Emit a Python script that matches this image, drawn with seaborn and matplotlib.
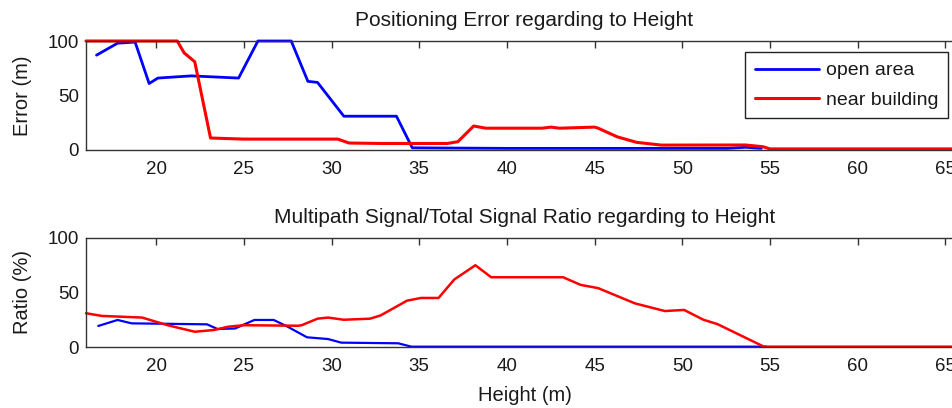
import matplotlib
matplotlib.use("Agg")
import matplotlib.pyplot as plt
import seaborn as sns
import pandas as pd

# ---- data ----
x_top_open = [16.6, 17.8, 18.8, 19.6, 20.1, 22.0, 24.7, 25.8, 27.7, 28.65, 29.2, 30.7, 33.7, 34.6,
              40.0, 45.0, 50.0, 52.6, 53.6, 54.5]
y_top_open = [87, 98, 99, 61, 66, 68, 66, 100, 100, 63, 62, 31, 31, 2,
              1.5, 1.5, 1.5, 1.5, 2.5, 1.5]

x_top_near = [16.0, 21.2, 21.6, 22.2, 23.1, 25.0, 30.35, 31.0, 32.8, 36.6, 37.2, 38.1, 38.8, 42.0,
              42.5, 43.0, 45.0, 45.2, 46.3, 47.4, 48.8, 53.6, 54.6, 55.0, 65.5]
y_top_near = [100, 100, 89, 81, 11, 10, 10, 6.4, 6, 6, 7.6, 22, 20, 20,
              21, 20, 21, 20, 12, 7, 4.5, 4.6, 3, 1, 1]

x_bot_open = [16.7, 17.8, 18.6, 22.9, 23.5, 24.5, 25.6, 26.7, 27.5, 28.6, 29.8, 30.55, 33.8, 34.55, 54.8]
y_bot_open = [19.3, 24.8, 21.7, 20.8, 16.5, 17, 24.8, 24.8, 18.6, 8.9, 7.3, 4, 3.4, 0.3, 0.3]

x_bot_near = [16.0, 16.9, 19.2, 20.65, 22.2, 23.3, 24.1, 25.0, 28.1, 28.3, 29.2, 29.8, 30.7, 32.2,
              32.8, 34.3, 35.1, 36.1, 37.0, 38.2, 39.1, 43.2, 44.2, 45.2, 47.3, 49.0, 50.1, 51.2,
              52.0, 54.65, 65.5]
y_bot_near = [31, 28.5, 27, 20, 14, 15.6, 18.6, 20, 19.5, 20, 26, 27, 25, 26,
              29, 42.5, 45, 45, 62, 75, 64, 64, 57, 54, 40, 33, 34, 25,
              21, 0.3, 0.3]

series_labels = ["open area", "near building"]
x_ticks = [20, 25, 30, 35, 40, 45, 50, 55, 60, 65]
y_ticks = [0, 50, 100]
titles = ["Positioning Error regarding to Height",
          "Multipath Signal/Total Signal Ratio regarding to Height"]
ylabels = ["Error (m)", "Ratio (%)"]
xlabel = "Height (m)"

sns.set_style("white")
plt.rcParams['font.family'] = ['Liberation Sans', 'DejaVu Sans']

W, H = 953, 408
fig = plt.figure(figsize=(W / 100, H / 100), dpi=100)

def axes_px(left, top, right, bottom):
    return fig.add_axes([left / W, 1 - bottom / H, (right - left) / W, (bottom - top) / H])

ax1 = axes_px(86, 41, 963, 150)
ax2 = axes_px(86, 238, 963, 347)

BLUE = (0, 0, 1)
RED = (1, 0, 0)

df1o = pd.DataFrame({"x": x_top_open, "y": y_top_open})
df1n = pd.DataFrame({"x": x_top_near, "y": y_top_near})
df2o = pd.DataFrame({"x": x_bot_open, "y": y_bot_open})
df2n = pd.DataFrame({"x": x_bot_near, "y": y_bot_near})

sns.lineplot(data=df1o, x="x", y="y", ax=ax1, color=BLUE, lw=2.0, label=series_labels[0],
             estimator=None, sort=False)
sns.lineplot(data=df1n, x="x", y="y", ax=ax1, color=RED, lw=2.2, label=series_labels[1],
             estimator=None, sort=False)
sns.lineplot(data=df2o, x="x", y="y", ax=ax2, color=BLUE, lw=1.6, estimator=None, sort=False)
sns.lineplot(data=df2n, x="x", y="y", ax=ax2, color=RED, lw=1.8, estimator=None, sort=False)

for ln in ax1.get_lines() + ax2.get_lines():
    ln.set_clip_on(False)

TXT = "#1a1a1a"
for ax, t, yl in zip([ax1, ax2], titles, ylabels):
    ax.set_xlim(16.0, 66.0)
    ax.set_ylim(0, 100)
    ax.set_xticks(x_ticks)
    ax.set_yticks(y_ticks)
    ax.tick_params(direction="in", top=True, right=True, length=5, width=1,
                   labelsize=13.5, colors="#333333", labelcolor=TXT)
    ax.tick_params(axis="x", pad=8)
    ax.tick_params(axis="y", pad=5)
    for s in ax.spines.values():
        s.set_visible(True)
        s.set_color("#333333")
        s.set_linewidth(1.0)
    ax.set_title(t, fontsize=15, color=TXT, pad=11)
    ax.set_ylabel(yl, fontsize=14.5, color=TXT, labelpad=11)
    ax.set_xlabel("")

ax2.set_xlabel(xlabel, fontsize=14.5, color=TXT, labelpad=8)

leg = ax1.legend(loc="upper right", bbox_to_anchor=(0.983, 0.899), fontsize=14,
                 frameon=True, fancybox=False, framealpha=1, edgecolor="#222222",
                 handlelength=3.3, borderpad=0.5, labelspacing=0.6, handletextpad=0.36,
                 borderaxespad=0.0)
leg.get_frame().set_linewidth(1.0)
for txt in leg.get_texts():
    txt.set_color(TXT)

fig.savefig("out.png", dpi=100)
